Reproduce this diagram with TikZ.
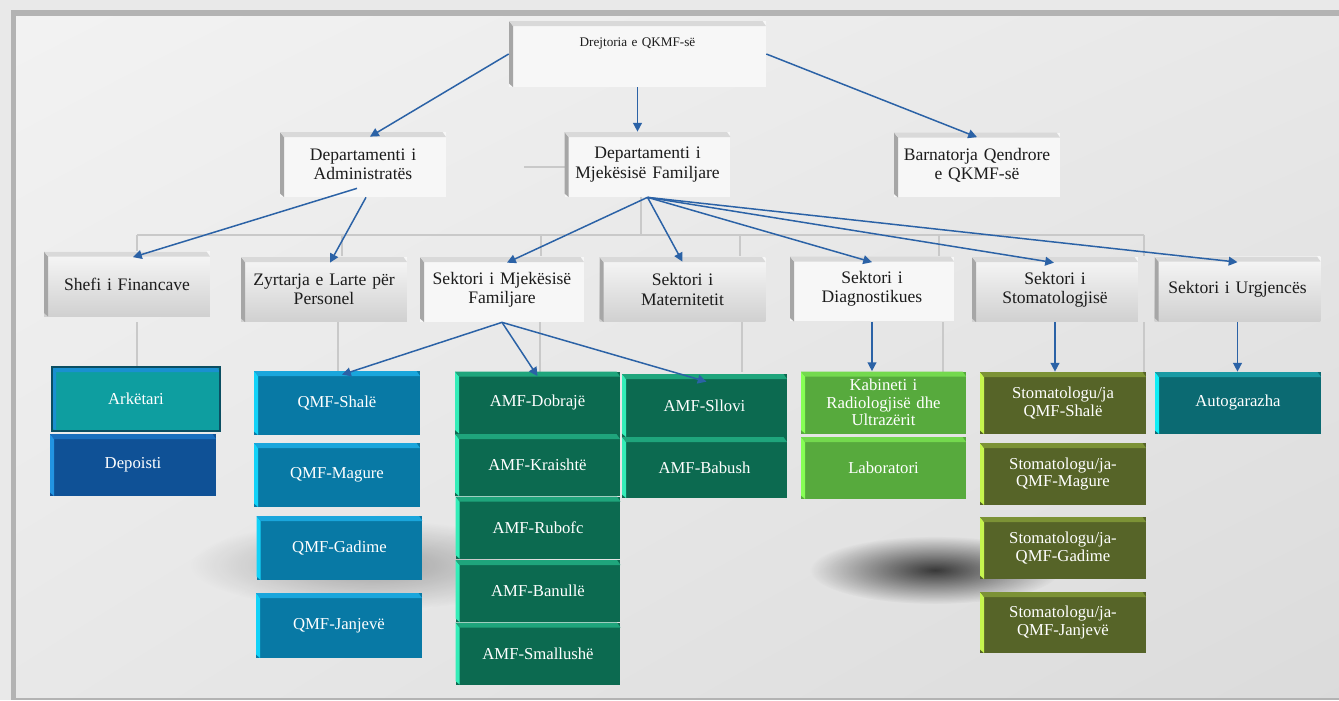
\documentclass[tikz,border=0pt]{standalone}
\usepackage{fontspec}
\setmainfont{Liberation Serif}
\usetikzlibrary{arrows.meta,fadings,shadings}

\definecolor{pagegray}{HTML}{E9E9E9}
\definecolor{framegray}{HTML}{B3B3B3}
\definecolor{linkblue}{HTML}{2B62A6}
\definecolor{treegray}{HTML}{C9C9C9}
\definecolor{paperface}{HTML}{F7F7F7}
\definecolor{paperside}{HTML}{A6A6A6}
\definecolor{papertop}{HTML}{D9D9D9}
\definecolor{papershade}{HTML}{D0D0D0}
\definecolor{inktext}{HTML}{1C1C1C}
\definecolor{qmfface}{HTML}{0879A5}
\definecolor{qmfside}{HTML}{12D2F8}
\definecolor{qmftop}{HTML}{1AA6DC}
\definecolor{amfface}{HTML}{0C6A50}
\definecolor{amfside}{HTML}{34EDB8}
\definecolor{amftop}{HTML}{1FA57C}
\definecolor{labface}{HTML}{57AA3D}
\definecolor{labside}{HTML}{86FF55}
\definecolor{labtop}{HTML}{74D94E}
\definecolor{stomface}{HTML}{566428}
\definecolor{stomside}{HTML}{C6F54E}
\definecolor{stomtop}{HTML}{7C9236}
\definecolor{garface}{HTML}{0B6A72}
\definecolor{garside}{HTML}{10EEF6}
\definecolor{gartop}{HTML}{1A9AA4}
\definecolor{cashface}{HTML}{0E9EA0}
\definecolor{cashrim}{HTML}{0B4E62}
\definecolor{cashside}{HTML}{1A90D0}
\definecolor{depoface}{HTML}{0F5196}
\definecolor{deposide}{HTML}{2294E2}
\definecolor{depotop}{HTML}{1A6FBE}

\tikzfading[name=shadowblob, inner color=transparent!0, outer color=transparent!100]

\tikzset{
  bevelbox/.style n args={3}{rectangle, inner sep=0pt, fill=#1,
    minimum width=3.32cm, minimum height=1.3cm, text width=3.1cm, align=center,
    path picture={
      \fill[#2] (path picture bounding box.north west)
        -- ([shift={(0.08cm,-0.1cm)}]path picture bounding box.north west)
        -- ([xshift=0.08cm]path picture bounding box.south west)
        -- ([yshift=0.07cm]path picture bounding box.south west) -- cycle;
      \fill[#3] (path picture bounding box.north west)
        -- ([xshift=-0.07cm]path picture bounding box.north east)
        -- ([yshift=-0.1cm]path picture bounding box.north east)
        -- ([shift={(0.08cm,-0.1cm)}]path picture bounding box.north west) -- cycle;
    }},
  officebox/.style={bevelbox={paperface}{paperside}{papertop}, text=inktext,
    font=\fontsize{10}{11}\selectfont},
  shadedbox/.style={officebox, top color=paperface, bottom color=papershade},
  unitbox/.style n args={3}{bevelbox={#1}{#2}{#3}, text=white,
    minimum height=1.24cm, font=\fontsize{9.5}{10}\selectfont},
  qmfbox/.style={unitbox={qmfface}{qmfside}{qmftop}, minimum height=1.28cm},
  amfbox/.style={unitbox={amfface}{amfside}{amftop}, minimum width=3.3cm},
  labbox/.style={unitbox={labface}{labside}{labtop}, minimum width=3.3cm},
  stombox/.style={unitbox={stomface}{stomside}{stomtop}},
  link/.style={draw=linkblue, line width=0.85pt, -{Triangle[length=5pt,width=5pt]}},
  tree/.style={draw=treegray, line width=0.6pt},
}

\begin{document}
\begin{tikzpicture}[x=0.02cm, y=-0.02cm]
\useasboundingbox (0,0) rectangle (1339,700);

% page and frame
\fill[pagegray] (0,0) rectangle (1339,700);
\fill[framegray] (11,10) rectangle (1339,700);
\shade[upper left=black!5, upper right=black!9, lower left=black!9, lower right=black!14]
  (16,16) rectangle (1339,697);

% soft shadows
\fill[black, opacity=0.3, path fading=shadowblob] (370,565) ellipse [x radius=180, y radius=45];
\fill[black, opacity=0.75, path fading=shadowblob] (935,570) ellipse [x radius=125, y radius=34];

% grey chart lines behind the boxes
\draw[tree] (137,235) -- (1144,235);
\foreach \x in {137,342,541,740,939,1144}
  \draw[tree] (\x,235) -- (\x,256);
\draw[tree] (641,197) -- (641,235);
\draw[tree] (524,167) -- (565,167);
\foreach \x in {137,338,540,742,943,1144}
  \draw[tree] (\x,322) -- (\x,372);

% top and departments
\node[officebox, minimum width=5.14cm, minimum height=1.32cm, text width=5cm,
  font=\fontsize{7.5}{9}\selectfont, text height=0.2cm, text depth=0.5cm]
  (dir) at (637.5,54) {Drejtoria e QKMF-së};
\node[officebox] (admin) at (363,164.5) {Departamenti i\\Administratës};
\node[officebox] (mf) at (647.5,164.5) {Departamenti i\\Mjekësisë Familjare};
\node[officebox] (barn) at (977,165) {Barnatorja Qendrore\\e QKMF-së};

% sectors
\node[shadedbox] (shefi) at (127,284) {Shefi i Financave};
\node[shadedbox] (zyrt) at (324,289.5) {Zyrtarja e Larte për\\Personel};
\node[officebox, minimum width=3.28cm] (sektmf) at (502,289.5) {Sektori i Mjekësisë\\Familjare};
\node[shadedbox] (matern) at (682.5,289.5) {Sektori i\\Maternitetit};
\node[officebox, minimum width=3.28cm] (diag) at (872,289) {Sektori i\\Diagnostikues};
\node[shadedbox] (stom) at (1055,289.5) {Sektori i\\Stomatologjisë};
\node[shadedbox] (urgj) at (1237.5,289) {Sektori i Urgjencës};

% units
\node[unitbox={cashface}{cashside}{cashside}, draw=cashrim, line width=0.05cm,
  minimum width=3.36cm, minimum height=1.28cm] (arket) at (136,399) {Arkëtari};
\node[unitbox={depoface}{deposide}{depotop}] (depo) at (133,465) {Depoisti};

\node[qmfbox] (qshale) at (337,403) {QMF-Shalë};
\node[qmfbox] (qmagure) at (337,475) {QMF-Magure};
\node[qmfbox] (qgadime) at (339.5,548) {QMF-Gadime};
\node[qmfbox, minimum height=1.3cm] (qjanjeve) at (339,625.5) {QMF-Janjevë};

\node[amfbox] (dobraje) at (537.5,402.5) {AMF-Dobrajë};
\node[amfbox] (kraishte) at (537.5,465) {AMF-Kraishtë};
\node[amfbox] (rubofc) at (538,527.5) {AMF-Rubofc};
\node[amfbox] (banulle) at (538,591) {AMF-Banullë};
\node[amfbox] (smallushe) at (538,653.5) {AMF-Smallushë};
\node[amfbox, minimum height=1.26cm] (sllovi) at (704.5,405.5) {AMF-Sllovi};
\node[amfbox, minimum height=1.22cm] (babush) at (704.5,467.5) {AMF-Babush};

\node[labbox] (kabin) at (883.5,402.5) {Kabineti i\\Radiologjisë dhe\\Ultrazërit};
\node[labbox] (labor) at (883.5,468) {Laboratori};

\node[stombox] (sshale) at (1063,403) {Stomatologu/ja\\QMF-Shalë};
\node[stombox] (smagure) at (1063,474) {Stomatologu/ja-\\QMF-Magure};
\node[stombox] (sgadime) at (1063,548) {Stomatologu/ja-\\QMF-Gadime};
\node[stombox, minimum height=1.22cm] (sjanjeve) at (1063,622.5) {Stomatologu/ja-\\QMF-Janjevë};

\node[unitbox={garface}{garside}{gartop}] (autog) at (1238,403) {Autogarazha};

% blue arrows
\draw[link] (dir.west) -- ([shift={(7,5)}]admin.north);
\draw[link] (dir.south) -- (dir.south |- mf.north);
\draw[link] (dir.east) -- ([shift={(0,5)}]barn.north);

\draw[link] ([shift={(-6,-9)}]admin.south) -- ([shift={(6,6)}]shefi.north);
\draw[link] ([shift={(3,0)}]admin.south) -- ([shift={(6,6)}]zyrt.north);

\draw[link] (mf.south) -- ([shift={(5,6)}]sektmf.north);
\draw[link] (mf.south) -- ([shift={(0,5)}]matern.north);
\draw[link] (mf.south) -- ([shift={(0,6)}]diag.north);
\draw[link] (mf.south) -- ([shift={(-1,6)}]stom.north);
\draw[link] (mf.south) -- ([shift={(0,6)}]urgj.north);

\draw[link] (sektmf.south) -- ([shift={(5,4)}]qshale.north);
\draw[link] (sektmf.south) -- ([shift={(0,5)}]dobraje.north);
\draw[link] (sektmf.south) -- ([shift={(2,8)}]sllovi.north);

\draw[link] (diag.south) -- (diag.south |- kabin.north);
\draw[link] (stom.south) -- (stom.south |- sshale.north);
\draw[link] (urgj.south) -- (urgj.south |- autog.north);
\end{tikzpicture}
\end{document}
